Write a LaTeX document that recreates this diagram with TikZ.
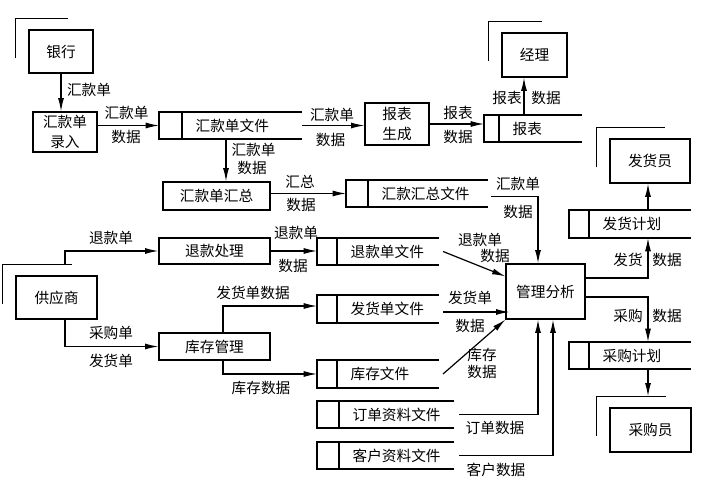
\documentclass[tikz,border=0pt]{standalone}
\usepackage{fontspec}
\newfontfamily\cjk{Noto Sans CJK SC}
\usetikzlibrary{arrows.meta}

\tikzset{
  every node/.style={font={\cjk\fontsize{11pt}{15pt}\selectfont}, inner sep=0pt},
  entity/.style={draw},
  proc/.style={draw, align=center},
  store/.style={draw=none, outer sep=0pt},
  flow/.style={-{Latex[length=10pt,width=4.5pt]}},
}

% name, left, divider, right, top, bottom, text
\newcommand{\datastore}[7]{%
  \pgfmathsetmacro{\storew}{(#4-#2)*0.75}%
  \pgfmathsetmacro{\storeh}{(#6-#5)*0.75}%
  \node[store, minimum width=\storew pt, minimum height=\storeh pt] (#1) at ({(#2+#4)/2},{(#5+#6)/2}) {};
  \draw (#1.north east) -- (#1.north west) -- (#1.south west) -- (#1.south east);
  \draw (#3,#5) -- (#3,#6);
  \node[anchor=west] (#1-t) at (#3+13,{(#5+#6)/2}) {#7};
}

\begin{document}
\begin{tikzpicture}[x=0.75pt, y=-0.75pt, line width=0.9pt]
    \useasboundingbox (0,0) rectangle (725,495);

    % external entities
    \node[entity, minimum width=48pt, minimum height=32.25pt] (yh) at (61,51.5) {银行};
    \node[entity, minimum width=48.75pt, minimum height=33pt] (jl) at (534.5,55) {经理};
    \node[entity, minimum width=60pt, minimum height=33pt] (fhy) at (650,161) {发货员};
    \node[entity, minimum width=60.75pt, minimum height=33pt] (cgy) at (650.5,430) {采购员};
    \node[entity, minimum width=60.75pt, minimum height=32.25pt] (gys) at (56.5,297.5) {供应商};
    \foreach \e in {yh,jl,fhy,cgy,gys}
        \draw ([shift={(-13,29)}]\e.north west) -- ([shift={(-13,-11)}]\e.north west) -- ([shift={(-26,-11)}]\e.north east);

    % processes
    \node[proc, minimum width=48pt, minimum height=30pt] (hklr) at (65,132) {汇款单\\录入};
    \node[proc, minimum width=48pt, minimum height=31.5pt] (bbsc) at (397,124) {报表\\生成};
    \node[proc, minimum width=80.25pt, minimum height=21pt] (hkhz) at (216.5,196) {汇款单汇总};
    \node[proc, minimum width=83.25pt, minimum height=19.5pt] (tkcl) at (214.5,251) {退款处理};
    \node[proc, minimum width=83.25pt, minimum height=20.25pt] (kcgl) at (214.5,346.5) {库存管理};
    \node[proc, minimum width=59.25pt, minimum height=41.25pt] (glfx) at (545.5,291.5) {管理分析};

    % data stores
    \datastore{hkdwj}{159}{182}{302}{112}{139}{汇款单文件}
    \datastore{bb}{484}{499}{582}{115}{142}{报表}
    \datastore{hkhzwj}{346}{368}{488}{180}{207}{汇款汇总文件}
    \datastore{tkdwj}{317}{337}{439}{238}{265}{退款单文件}
    \datastore{fhdwj}{317}{337}{439}{295}{323}{发货单文件}
    \datastore{kcwj}{317}{337}{439}{360}{388}{库存文件}
    \datastore{ddzl}{317}{339}{454}{401}{428}{订单资料文件}
    \datastore{khzl}{317}{339}{454}{442}{469}{客户资料文件}
    \datastore{fhjh}{569}{589}{691}{210}{238}{发货计划}
    \datastore{cgjh}{569}{589}{691}{342}{369}{采购计划}

    % flows
    \draw[flow] (yh.south) -- (yh.south |- hklr.north);
    \draw[flow] (hkdwj.west -| hklr.east) -- (hkdwj.west);
    \draw[flow] (hkdwj.east) -- (hkdwj.east -| bbsc.west);
    \draw[flow] (bbsc.east) -- (bbsc.east -| bb.west);
    \draw[flow] ([shift={(-9,0)}]bb.north) -- ([shift={(-9,0)}]bb.north |- jl.south);
    \draw[flow] ([shift={(-4.5,0)}]hkdwj.south) -- ([shift={(-4.5,0)}]hkdwj.south |- hkhz.north);
    \draw[flow] (hkhzwj.west -| hkhz.east) -- (hkhzwj.west);
    \draw[flow] ([shift={(3,3)}]hkhzwj.east) -| ([shift={(-7.5,0)}]glfx.north);
    \draw[flow] ([shift={(8.5,-11)}]gys.north) |- (tkcl.west);
    \draw[flow] (tkcl.east) -- (tkcl.east -| tkdwj.west);
    \draw[flow] ([shift={(4,0)}]tkdwj.east) -- ([shift={(0,13)}]glfx.north west);
    \draw[flow] ([shift={(8.5,0)}]gys.south) |- (kcgl.west);
    \draw[flow] ([shift={(8.5,0)}]kcgl.north) |- ([shift={(0,-3)}]fhdwj.west);
    \draw[flow] ([shift={(8.5,0)}]kcgl.south) |- (kcwj.west);
    \draw[flow] ([shift={(4,3)}]fhdwj.east) -- ([shift={(4,3)}]fhdwj.east -| glfx.west);
    \draw[flow] ([shift={(4,0)}]kcwj.east) -- (glfx.south west);
    \draw[flow] ([shift={(5,0)}]ddzl.east) -| ([shift={(-7.5,0)}]glfx.south);
    \draw[flow] ([shift={(5,0)}]khzl.east) -| ([shift={(7.5,0)}]glfx.south);
    \draw[flow] ([shift={(0,-13.5)}]glfx.east) -| ([shift={(18,0)}]fhjh.south);
    \draw[flow] ([shift={(0,5.5)}]glfx.east) -| ([shift={(18,0)}]cgjh.north);
    \draw[flow] ([shift={(18,0)}]fhjh.north) -- ([shift={(18,0)}]fhjh.north |- fhy.south);
    \draw[flow] ([shift={(18,0)}]cgjh.south) -- ([shift={(-2.5,-11)}]cgy.north);

    % flow labels
    \node (t1) at (89,90) {汇款单};
    \node (t2) at (126.5,113) {汇款单};
    \node (t3) at (126,137) {数据};
    \node (t4) at (332,115) {汇款单};
    \node (t5) at (330.5,140) {数据};
    \node (t6) at (458,113) {报表};
    \node (t7) at (458,137) {数据};
    \node (t8) at (507,98) {报表};
    \node (t9) at (546,98) {数据};
    \node (t10) at (253.5,150) {汇款单};
    \node (t11) at (252,168) {数据};
    \node (t12) at (300,182) {汇总};
    \node (t13) at (301,205) {数据};
    \node (t14) at (518,184) {汇款单};
    \node (t15) at (518,212) {数据};
    \node (t16) at (111,238) {退款单};
    \node (t17) at (296,233) {退款单};
    \node (t18) at (293,266) {数据};
    \node (t19) at (480,240) {退款单};
    \node (t20) at (495,256) {数据};
    \node (t21) at (253,293) {发货单数据};
    \node (t22) at (470,298) {发货单};
    \node (t23) at (470,326) {数据};
    \node (t24) at (111,333) {采购单};
    \node (t25) at (111,361) {发货单};
    \node (t26) at (261,388) {库存数据};
    \node (t27) at (482,355) {库存};
    \node (t28) at (482,372) {数据};
    \node (t29) at (495,428) {订单数据};
    \node (t30) at (496,470) {客户数据};
    \node (t31) at (628,260) {发货};
    \node (t32) at (667,260) {数据};
    \node (t33) at (628,316) {采购};
    \node (t34) at (667,316) {数据};
\end{tikzpicture}
\end{document}
